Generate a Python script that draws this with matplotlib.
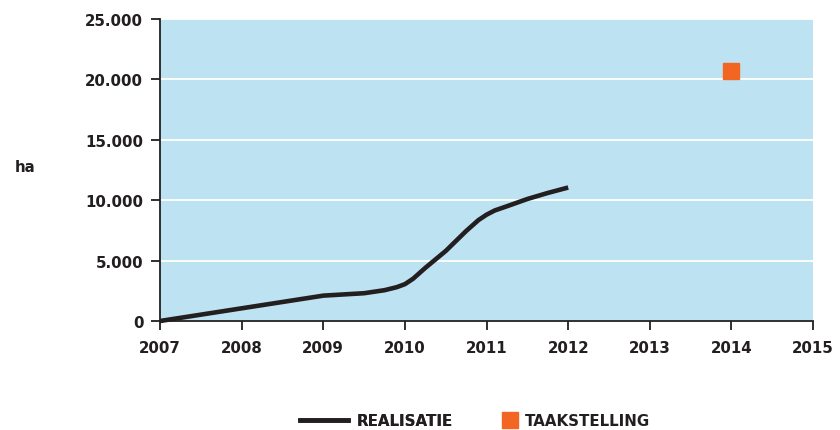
import matplotlib
matplotlib.use("Agg")
import matplotlib.pyplot as plt
from matplotlib.lines import Line2D
from matplotlib.ticker import FuncFormatter

plt.rcParams['font.family'] = ['DejaVu Sans']
plt.rcParams['font.weight'] = 'bold'

years = [2007, 2008, 2009, 2009.5, 2009.75, 2009.9, 2010, 2010.1, 2010.25, 2010.5,
         2010.75, 2010.9, 2011, 2011.1, 2011.25, 2011.5, 2011.75, 2012]
realisatie = [0, 1050, 2100, 2300, 2550, 2800, 3050, 3500, 4400, 5800,
              7450, 8350, 8800, 9150, 9500, 10100, 10600, 11050]
target_year = [2014]
taakstelling = [20700]
x_ticks = [2007, 2008, 2009, 2010, 2011, 2012, 2013, 2014, 2015]
y_ticks = [0, 5000, 10000, 15000, 20000, 25000]

bg = '#bde3f3'
dark = '#231f20'
orange = '#f26522'
fs = 10.8

fig = plt.figure(figsize=(8.4, 4.31), dpi=100)
ax = fig.add_axes([0.1905, 0.2529, 0.7775, 0.7007])
ax.set_facecolor(bg)
ax.set_xlim(2007, 2015)
ax.set_ylim(0, 25000)
ax.set_xticks(x_ticks)
ax.set_yticks(y_ticks)
ax.yaxis.set_major_formatter(FuncFormatter(lambda v, p: f"{int(v):,}".replace(',', '.')))
ax.grid(axis='y', color='white', linewidth=1.3)
ax.set_axisbelow(True)
for s in ['top', 'right']:
    ax.spines[s].set_visible(False)
for s in ['left', 'bottom']:
    ax.spines[s].set_color(dark)
    ax.spines[s].set_linewidth(1.3)
ax.tick_params(axis='both', colors=dark, length=6.5, width=1.3, labelsize=fs)
ax.tick_params(axis='x', pad=7)
ax.tick_params(axis='y', pad=5.5)
for lab in ax.get_xticklabels() + ax.get_yticklabels():
    lab.set_fontweight('bold')

ax.plot(years, realisatie, color=dark, linewidth=3.3, solid_capstyle='butt',
        solid_joinstyle='round', clip_on=False, zorder=3)
ax.plot(target_year, taakstelling, marker='s', linestyle='none', color=orange,
        markersize=12, zorder=3)

fig.text(0.017, 0.612, 'ha', fontsize=fs, fontweight='bold', color=dark, va='center')

leg1 = fig.legend([Line2D([0], [0], color=dark, linewidth=3.3)], ['REALISATIE'],
                  loc='center left', bbox_to_anchor=(300 / 840, 0.022), frameon=False,
                  borderpad=0, borderaxespad=0, handlelength=3.2, handletextpad=0.55,
                  prop={'size': fs, 'weight': 'bold'})
leg2 = fig.legend([Line2D([0], [0], marker='s', linestyle='none', color=orange, markersize=12)],
                  ['TAAKSTELLING'], loc='center left', bbox_to_anchor=(502 / 840, 0.022),
                  frameon=False, borderpad=0, borderaxespad=0, handlelength=1.1,
                  handletextpad=0.4, prop={'size': fs, 'weight': 'bold'})
fig.add_artist(leg1)
for leg in (leg1, leg2):
    for t in leg.get_texts():
        t.set_color(dark)

fig.savefig('out.png', dpi=100)
